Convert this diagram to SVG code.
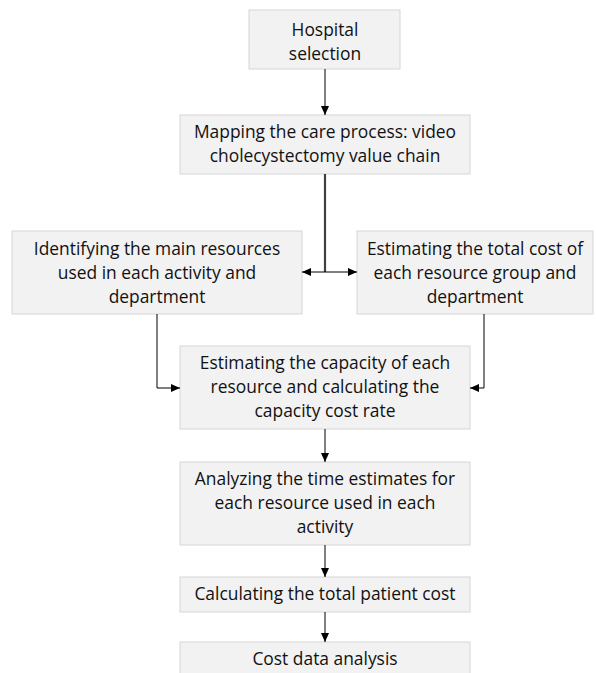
<svg xmlns="http://www.w3.org/2000/svg" width="596" height="673" viewBox="0 0 596 673">
<style>
.box{fill:#f2f2f2;stroke:#d6d6d6;stroke-width:1}
.t{font-family:"Open Sans","Noto Sans",sans-serif;font-size:17.4px;fill:#111;text-anchor:middle}
.c{fill:none;stroke:#000;stroke-width:1}
</style>
<defs>
<marker id="ah" markerWidth="9" markerHeight="8" refX="9" refY="4" orient="auto" markerUnits="userSpaceOnUse">
<path d="M0,0 L9,4 L0,8 Z" fill="#000"/>
</marker>
</defs>
<rect width="596" height="673" fill="#fff"/>
<g id="n1"><rect class="box" x="249" y="10" width="151" height="59"/>
<text class="t" x="325" y="36">Hospital</text><text class="t" x="325" y="60">selection</text></g>
<g id="n2"><rect class="box" x="180" y="115" width="290" height="59"/>
<text class="t" x="325" y="138">Mapping the care process: video</text><text class="t" x="325" y="162">cholecystectomy value chain</text></g>
<g id="n3"><rect class="box" x="12" y="231" width="290" height="83"/>
<text class="t" x="157" y="255">Identifying the main resources</text><text class="t" x="157" y="279">used in each activity and</text><text class="t" x="157" y="303">department</text></g>
<g id="n4"><rect class="box" x="357" y="231" width="236" height="83"/>
<text class="t" x="475" y="255">Estimating the total cost of</text><text class="t" x="475" y="279">each resource group and</text><text class="t" x="475" y="303">department</text></g>
<g id="n5"><rect class="box" x="180" y="346" width="290" height="83"/>
<text class="t" x="325" y="369">Estimating the capacity of each</text><text class="t" x="325" y="393">resource and calculating the</text><text class="t" x="325" y="417">capacity cost rate</text></g>
<g id="n6"><rect class="box" x="180" y="462" width="290" height="83"/>
<text class="t" x="325" y="485">Analyzing the time estimates for</text><text class="t" x="325" y="509">each resource used in each</text><text class="t" x="325" y="533">activity</text></g>
<g id="n7"><rect class="box" x="180" y="577" width="290" height="35"/>
<text class="t" x="325" y="600">Calculating the total patient cost</text></g>
<g id="n8"><rect class="box" x="180" y="642" width="290" height="40"/>
<text class="t" x="325" y="665">Cost data analysis</text></g>
<g id="connectors">
<line class="c" x1="325" y1="69" x2="325" y2="115" marker-end="url(#ah)"/>
<line x1="325" y1="174" x2="325" y2="272" stroke="#404040" stroke-width="2.2"/>
<line class="c" x1="325" y1="272" x2="302" y2="272" marker-end="url(#ah)"/>
<line class="c" x1="325" y1="272" x2="357" y2="272" marker-end="url(#ah)"/>
<polyline class="c" points="157,314 157,388 180,388" marker-end="url(#ah)"/>
<polyline class="c" points="484,314 484,388 470,388" marker-end="url(#ah)"/>
<line class="c" x1="325" y1="429" x2="325" y2="462" marker-end="url(#ah)"/>
<line class="c" x1="325" y1="545" x2="325" y2="577" marker-end="url(#ah)"/>
<line class="c" x1="325" y1="612" x2="325" y2="642" marker-end="url(#ah)"/>
</g>
</svg>
